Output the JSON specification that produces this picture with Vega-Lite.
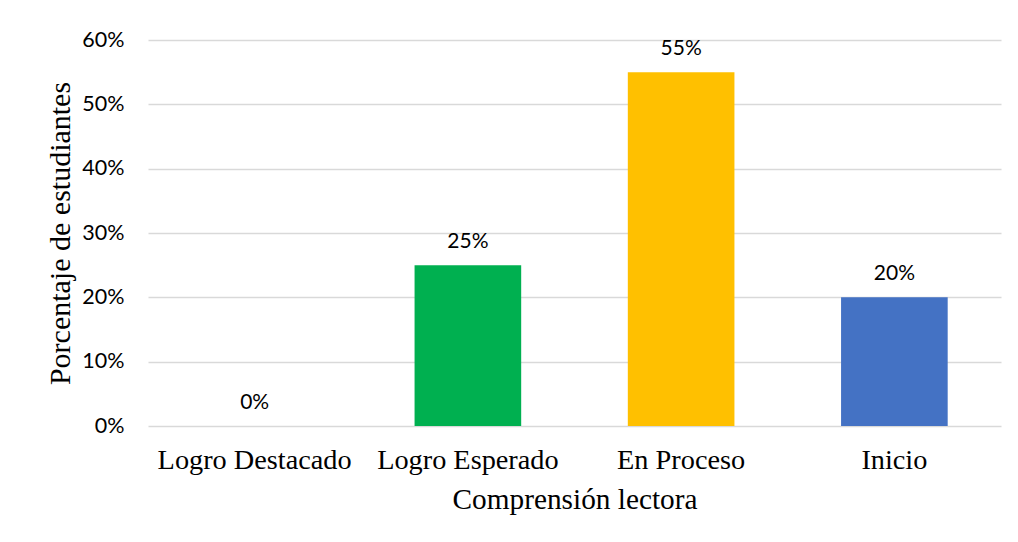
{
  "$schema": "https://vega.github.io/schema/vega-lite/v6.json",
  "autosize": "none",
  "width": 853,
  "height": 386,
  "padding": {"left": 148, "top": 40, "right": 17, "bottom": 116},
  "background": "white",
  "config": {
    "view": {"stroke": null},
    "axis": {"labelColor": "#000000", "titleColor": "#000000", "titleFontWeight": "normal"}
  },
  "data": {
    "values": [
      {"nivel": "Logro Destacado", "pct": 0.0},
      {"nivel": "Logro Esperado", "pct": 0.25},
      {"nivel": "En Proceso", "pct": 0.55},
      {"nivel": "Inicio", "pct": 0.20}
    ]
  },
  "encoding": {
    "x": {
      "field": "nivel",
      "type": "nominal",
      "sort": null,
      "title": "Comprensión lectora",
      "scale": {"paddingInner": 0.5, "paddingOuter": 0.25},
      "axis": {
        "labelAngle": 0,
        "labelFont": "Liberation Serif",
        "labelFontSize": 28.3,
        "labelLimit": 400,
        "labelPadding": 20,
        "ticks": false,
        "domain": false,
        "titleFont": "Liberation Serif",
        "titleFontSize": 29.3,
        "titlePadding": 12
      }
    },
    "y": {
      "field": "pct",
      "type": "quantitative",
      "title": "Porcentaje de estudiantes",
      "scale": {"domain": [0, 0.6], "nice": false},
      "axis": {
        "format": ".0%",
        "values": [0, 0.1, 0.2, 0.3, 0.4, 0.5, 0.6],
        "labelFont": "Lato",
        "labelFontSize": 21.5,
        "labelPadding": 24,
        "ticks": false,
        "domain": false,
        "gridColor": "#d9d9d9",
        "gridWidth": 1.5,
        "titleFont": "Liberation Serif",
        "titleFontSize": 30,
        "titlePadding": 6
      }
    }
  },
  "layer": [
    {
      "mark": {"type": "bar"},
      "encoding": {
        "color": {
          "field": "nivel",
          "type": "nominal",
          "legend": null,
          "scale": {
            "domain": ["Logro Destacado", "Logro Esperado", "En Proceso", "Inicio"],
            "range": ["#a5a5a5", "#00b050", "#ffc000", "#4472c4"]
          }
        }
      }
    },
    {
      "mark": {"type": "text", "font": "Lato", "fontSize": 21, "dy": -17, "baseline": "alphabetic", "color": "#000000"},
      "encoding": {
        "text": {"field": "pct", "type": "quantitative", "format": ".0%"}
      }
    }
  ]
}
